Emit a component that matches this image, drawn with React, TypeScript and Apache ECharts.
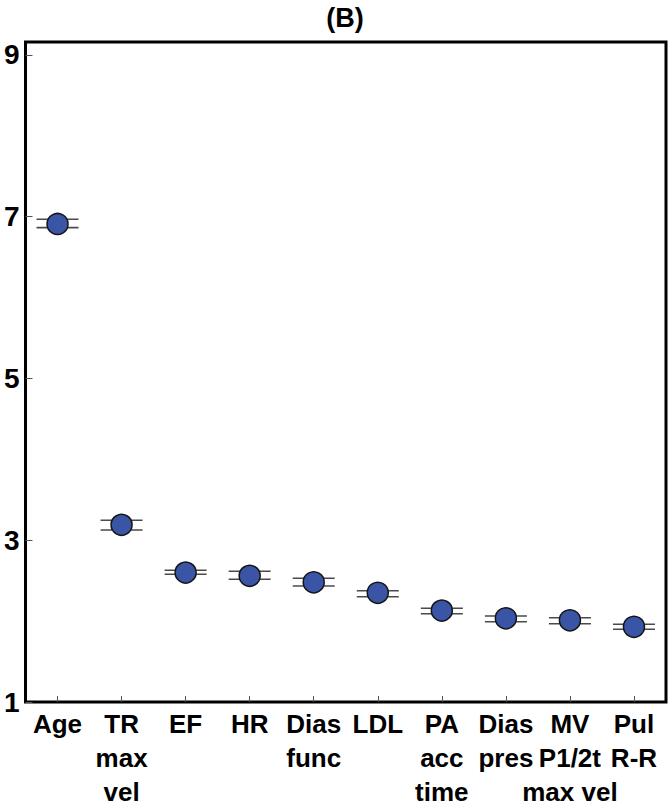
import React, { useEffect, useRef } from 'react';
import * as echarts from 'echarts';

const categories = [
  'Age',
  'TR\nmax\nvel',
  'EF',
  'HR',
  'Dias\nfunc',
  'LDL',
  'PA\nacc\ntime',
  'Dias\npres',
  'MV\nP1/2t\nmax vel',
  'Pul\nR-R',
];
const meanValues = [6.91, 3.19, 2.6, 2.56, 2.48, 2.35, 2.13, 2.035, 2.01, 1.93];
const lowerValues = [6.865, 3.127, 2.579, 2.517, 2.434, 2.302, 2.092, 1.993, 1.968, 1.899];
const upperValues = [6.969, 3.247, 2.628, 2.616, 2.53, 2.376, 2.159, 2.063, 2.042, 1.961];
const yTickValues = [1, 3, 5, 7, 9];
const titleText = '(B)';

const FONT = '"Liberation Sans", Arial, Helvetica, sans-serif';

export default function App() {
  const ref = useRef<HTMLDivElement>(null);

  useEffect(() => {
    document.body.style.margin = '0';
    if (!ref.current) return;
    const chart = echarts.init(ref.current, undefined, { renderer: 'svg' });

    const errorData = categories.map((_, i) => [i, lowerValues[i], upperValues[i]]);
    const pointData = categories.map((_, i) => [i, meanValues[i]]);

    chart.setOption({
      animation: false,
      backgroundColor: '#ffffff',
      title: {
        text: titleText,
        left: 345,
        top: 4,
        padding: 0,
        textAlign: 'center',
        textStyle: { fontFamily: FONT, fontWeight: 'bold', fontSize: 27, color: '#000' },
      },
      grid: {
        left: 25.5,
        right: 672 - 666,
        top: 42,
        bottom: 810 - 702,
        show: true,
        borderColor: '#000',
        borderWidth: 3,
        backgroundColor: 'transparent',
      },
      xAxis: {
        type: 'category',
        data: categories,
        boundaryGap: true,
        axisLine: { show: false },
        axisTick: {
          show: true,
          inside: true,
          alignWithLabel: true,
          length: 6,
          lineStyle: { color: '#555', width: 1 },
        },
        axisLabel: {
          interval: 0,
          margin: 5,
          fontFamily: FONT,
          fontWeight: 'bold',
          fontSize: 26,
          lineHeight: 34,
          color: '#000',
        },
        splitLine: { show: false },
      },
      yAxis: {
        type: 'value',
        min: 1,
        max: 9.16,
        axisLine: { show: false },
        axisTick: {
          show: true,
          inside: true,
          length: 7,
          customValues: yTickValues,
          lineStyle: { color: '#555', width: 1 },
        },
        axisLabel: {
          customValues: yTickValues,
          margin: 6,
          fontFamily: FONT,
          fontWeight: 'bold',
          fontSize: 28,
          color: '#000',
        },
        splitLine: { show: false },
      },
      series: [
        {
          type: 'custom',
          data: errorData,
          z: 2,
          renderItem: (params: any, api: any) => {
            const x = api.value(0);
            const lo = api.coord([x, api.value(1)]);
            const hi = api.coord([x, api.value(2)]);
            const half = 21;
            const style = { stroke: '#4a4a4a', lineWidth: 1.6 };
            return {
              type: 'group',
              children: [
                { type: 'line', shape: { x1: lo[0] - half, y1: lo[1], x2: lo[0] + half, y2: lo[1] }, style },
                { type: 'line', shape: { x1: hi[0] - half, y1: hi[1], x2: hi[0] + half, y2: hi[1] }, style },
              ],
            };
          },
        },
        {
          type: 'scatter',
          data: pointData,
          z: 3,
          symbol: 'circle',
          symbolSize: 21,
          itemStyle: { color: '#3a55a6', borderColor: '#151515', borderWidth: 1.5, opacity: 1 },
        },
      ],
    });

    return () => {
      chart.dispose();
    };
  }, []);

  return <div ref={ref} style={{ width: 672, height: 810 }} />;
}
